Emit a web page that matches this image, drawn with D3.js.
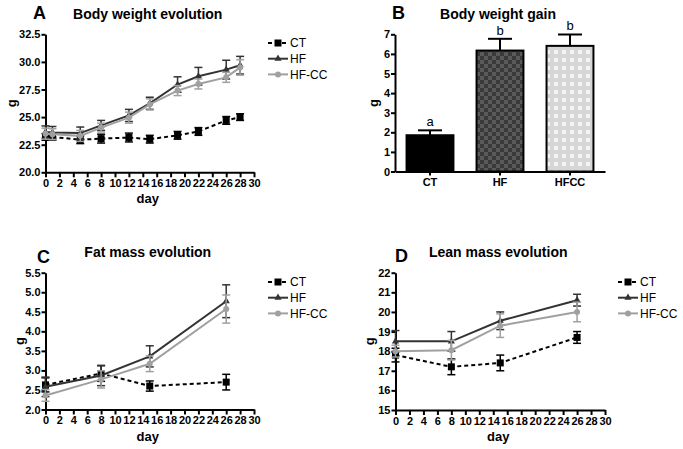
<!DOCTYPE html>
<html><head><meta charset="utf-8">
<script src="https://cdn.jsdelivr.net/npm/d3@7"></script>
<style>body{margin:0;background:#fff}svg{display:block}text{font-family:"Liberation Sans",Arial,sans-serif}</style>
</head><body>
<svg id="c" width="683" height="449"></svg>
<script>
// ---- Data ----
const seriesNames = ["CT", "HF", "HF-CC"];
const daysA = [0, 1, 5, 8, 12, 15, 19, 22, 26, 28];
const ctA = [23.2, 23.2, 22.95, 23.05, 23.15, 23.0, 23.35, 23.7, 24.7, 25.0];
const ctAErr = [0.3, 0.3, 0.35, 0.4, 0.4, 0.35, 0.35, 0.35, 0.35, 0.3];
const hfA = [23.65, 23.6, 23.55, 24.25, 25.15, 26.25, 27.95, 28.7, 29.3, 29.7];
const hfAErr = [0.55, 0.55, 0.55, 0.45, 0.55, 0.55, 0.7, 0.8, 0.85, 0.8];
const hfccA = [23.5, 23.45, 23.3, 24.05, 24.95, 26.15, 27.4, 28.0, 28.6, 29.5];
const hfccAErr = [0.5, 0.5, 0.5, 0.4, 0.5, 0.5, 0.45, 0.45, 0.45, 0.7];

const barCats = ["CT", "HF", "HFCC"];
const barVals = [1.85, 6.17, 6.41];
const barErr = [0.25, 0.6, 0.58];
const barLetters = ["a", "b", "b"];

const daysCD = [0, 8, 15, 26];
const ctC = [2.63, 2.92, 2.6, 2.7];
const ctCErr = [0.18, 0.2, 0.13, 0.2];
const hfC = [2.58, 2.87, 3.36, 4.77];
const hfCErr = [0.25, 0.26, 0.27, 0.42];
const hfccC = [2.36, 2.77, 3.17, 4.57];
const hfccCErr = [0.15, 0.22, 0.2, 0.36];

const ctD = [17.8, 17.2, 17.4, 18.7];
const ctDErr = [0.35, 0.4, 0.4, 0.3];
const hfD = [18.5, 18.5, 19.55, 20.6];
const hfDErr = [0.55, 0.5, 0.45, 0.3];
const hfccD = [18.0, 18.05, 19.3, 20.0];
const hfccDErr = [0.3, 0.5, 0.6, 0.5];

const xTicks = d3.range(0, 31, 2);

// ---- Drawing ----
const svg = d3.select("#c");
const colors = {"CT": "#000", "HF": "#333", "HF-CC": "#a0a0a0"};
const dashes = {"CT": "4,3", "HF": null, "HF-CC": null};

function marker(g, name, x, y) {
  const c = colors[name];
  if (name === "CT") g.append("rect").attr("x", x - 3.5).attr("y", y - 3.5).attr("width", 7).attr("height", 7).attr("fill", c);
  else if (name === "HF") g.append("path").attr("d", d3.symbol(d3.symbolTriangle, 22)()).attr("transform", `translate(${x},${y})`).attr("fill", c);
  else g.append("circle").attr("cx", x).attr("cy", y).attr("r", 3).attr("fill", c);
}

function styleAxis(a) {
  a.selectAll(".domain").attr("stroke", "#000").attr("stroke-width", 2);
  a.selectAll(".tick line").attr("stroke", "#000").attr("stroke-width", 2);
  a.selectAll(".tick text").attr("font-size", 11).attr("font-weight", "bold").attr("fill", "#000");
}

function linePanel(o) {
  const g = svg.append("g");
  const x = d3.scaleLinear().domain([0, 30]).range(o.xr);
  const y = d3.scaleLinear().domain(o.yd).range(o.yr);
  const ax = g.append("g").attr("transform", `translate(0,${o.yr[0]})`)
    .call(d3.axisBottom(x).tickValues(xTicks).tickSize(5).tickSizeOuter(0).tickPadding(2));
  styleAxis(ax);
  const ay = g.append("g").attr("transform", `translate(${o.xr[0]},0)`)
    .call(d3.axisLeft(y).tickValues(o.yt).tickFormat(d3.format(o.fmt)).tickSize(4).tickSizeOuter(0).tickPadding(1));
  styleAxis(ay);
  o.series.forEach(s => {
    const pts = o.days.map((d, i) => ({d, v: s.vals[i], e: s.err[i]}));
    const c = colors[s.name];
    g.append("path").datum(pts).attr("fill", "none").attr("stroke", c).attr("stroke-width", 2)
      .attr("stroke-dasharray", dashes[s.name])
      .attr("d", d3.line().x(p => x(p.d)).y(p => y(p.v)));
    pts.forEach(p => {
      const cx = x(p.d);
      g.append("line").attr("x1", cx).attr("x2", cx).attr("y1", y(p.v - p.e)).attr("y2", y(p.v + p.e)).attr("stroke", c).attr("stroke-width", 1.5);
      [p.v - p.e, p.v + p.e].forEach(v => g.append("line").attr("x1", cx - 4).attr("x2", cx + 4).attr("y1", y(v)).attr("y2", y(v)).attr("stroke", c).attr("stroke-width", 1.5));
      marker(g, s.name, cx, y(p.v));
    });
  });
  // labels
  g.append("text").attr("x", o.letter[0]).attr("y", o.letter[1]).attr("font-size", 18).attr("font-weight", "bold").text(o.L);
  g.append("text").attr("x", (o.xr[0] + o.xr[1]) / 2 - 2).attr("y", o.titleY).attr("text-anchor", "middle").attr("font-size", 14).attr("font-weight", "bold").text(o.title);
  g.append("text").attr("x", (o.xr[0] + o.xr[1]) / 2 - 2).attr("y", o.yr[0] + 31).attr("text-anchor", "middle").attr("font-size", 13).attr("font-weight", "bold").text("day");
  g.append("text").attr("transform", `translate(${o.gx},${(o.yr[0] + o.yr[1]) / 2}) rotate(-90)`).attr("text-anchor", "middle").attr("dy", "0.35em").attr("font-size", 13).attr("font-weight", "bold").text("g");
  // legend
  seriesNames.forEach((n, i) => {
    const ly = o.legY + i * 15.7;
    g.append("line").attr("x1", o.legX).attr("x2", o.legX + 20).attr("y1", ly).attr("y2", ly).attr("stroke", colors[n]).attr("stroke-width", 2).attr("stroke-dasharray", dashes[n]);
    marker(g, n, o.legX + 10, ly);
    g.append("text").attr("x", o.legX + 22).attr("y", ly).attr("dy", "0.35em").attr("font-size", 12).text(n);
  });
}

linePanel({L: "A", letter: [33, 19], title: "Body weight evolution", titleY: 19, xr: [45.5, 254], yr: [172.3, 34.3], yd: [20, 32.5],
  yt: [20, 22.5, 25, 27.5, 30, 32.5], fmt: ".1f", gx: 11, legX: 268, legY: 43, days: daysA,
  series: [{name: "CT", vals: ctA, err: ctAErr}, {name: "HF", vals: hfA, err: hfAErr}, {name: "HF-CC", vals: hfccA, err: hfccAErr}]});
linePanel({L: "C", letter: [37, 263], title: "Fat mass evolution", titleY: 257, xr: [45.5, 254], yr: [409.5, 272.7], yd: [2, 5.5],
  yt: [2, 2.5, 3, 3.5, 4, 4.5, 5, 5.5], fmt: ".1f", gx: 19, legX: 268, legY: 282, days: daysCD,
  series: [{name: "CT", vals: ctC, err: ctCErr}, {name: "HF", vals: hfC, err: hfCErr}, {name: "HF-CC", vals: hfccC, err: hfccCErr}]});
linePanel({L: "D", letter: [395, 262], title: "Lean mass evolution", titleY: 257, xr: [395.5, 605], yr: [410, 272.7], yd: [15, 22],
  yt: d3.range(15, 23), fmt: "d", gx: 369, legX: 618, legY: 282, days: daysCD,
  series: [{name: "CT", vals: ctD, err: ctDErr}, {name: "HF", vals: hfD, err: hfDErr}, {name: "HF-CC", vals: hfccD, err: hfccDErr}]});

// ---- Bar panel B ----
(function () {
  const defs = svg.append("defs");
  const p1 = defs.append("pattern").attr("id", "chk").attr("width", 8).attr("height", 8).attr("patternUnits", "userSpaceOnUse");
  p1.append("rect").attr("width", 8).attr("height", 8).attr("fill", "#5a5a5a");
  p1.append("rect").attr("width", 4).attr("height", 4).attr("fill", "#3a3a3a");
  p1.append("rect").attr("x", 4).attr("y", 4).attr("width", 4).attr("height", 4).attr("fill", "#3a3a3a");
  const p2 = defs.append("pattern").attr("id", "dots").attr("width", 8).attr("height", 8).attr("patternUnits", "userSpaceOnUse");
  p2.append("rect").attr("width", 8).attr("height", 8).attr("fill", "#d6d6d6");
  p2.append("rect").attr("x", 2).attr("y", 2).attr("width", 4).attr("height", 4).attr("fill", "#f4f4f4");
  const fills = ["#000", "url(#chk)", "url(#dots)"];

  const g = svg.append("g");
  const x = d3.scaleBand().domain(barCats).range([395, 605]).paddingInner(0.33).paddingOuter(0.165);
  const y = d3.scaleLinear().domain([0, 7]).range([171.5, 34.3]);
  barCats.forEach((c, i) => {
    const cx = x(c) + x.bandwidth() / 2;
    const top = y(barVals[i] + barErr[i]);
    g.append("line").attr("x1", cx).attr("x2", cx).attr("y1", y(barVals[i])).attr("y2", top).attr("stroke", "#000").attr("stroke-width", 2);
    g.append("line").attr("x1", cx - 12).attr("x2", cx + 12).attr("y1", top).attr("y2", top).attr("stroke", "#000").attr("stroke-width", 2);
    g.append("rect").attr("x", x(c)).attr("y", y(barVals[i])).attr("width", x.bandwidth()).attr("height", y(0) - y(barVals[i]))
      .attr("fill", fills[i]).attr("stroke", "#000").attr("stroke-width", 2);
    g.append("text").attr("x", cx).attr("y", top - 4).attr("text-anchor", "middle").attr("font-size", 13).attr("fill", "#000").text(barLetters[i]);
  });
  const ax = g.append("g").attr("transform", `translate(0,${y(0)})`).call(d3.axisBottom(x).tickSize(4).tickSizeOuter(0).tickPadding(3));
  styleAxis(ax);
  const ay = g.append("g").attr("transform", "translate(395,0)").call(d3.axisLeft(y).ticks(7).tickFormat(d3.format("d")).tickSize(4).tickSizeOuter(0).tickPadding(1));
  styleAxis(ay);
  g.append("text").attr("x", 392).attr("y", 19).attr("font-size", 18).attr("font-weight", "bold").text("B");
  g.append("text").attr("x", 498).attr("y", 19).attr("text-anchor", "middle").attr("font-size", 14).attr("font-weight", "bold").text("Body weight gain");
  g.append("text").attr("transform", "translate(373,103) rotate(-90)").attr("text-anchor", "middle").attr("dy", "0.35em").attr("font-size", 13).attr("font-weight", "bold").text("g");
})();
</script>
</body></html>
